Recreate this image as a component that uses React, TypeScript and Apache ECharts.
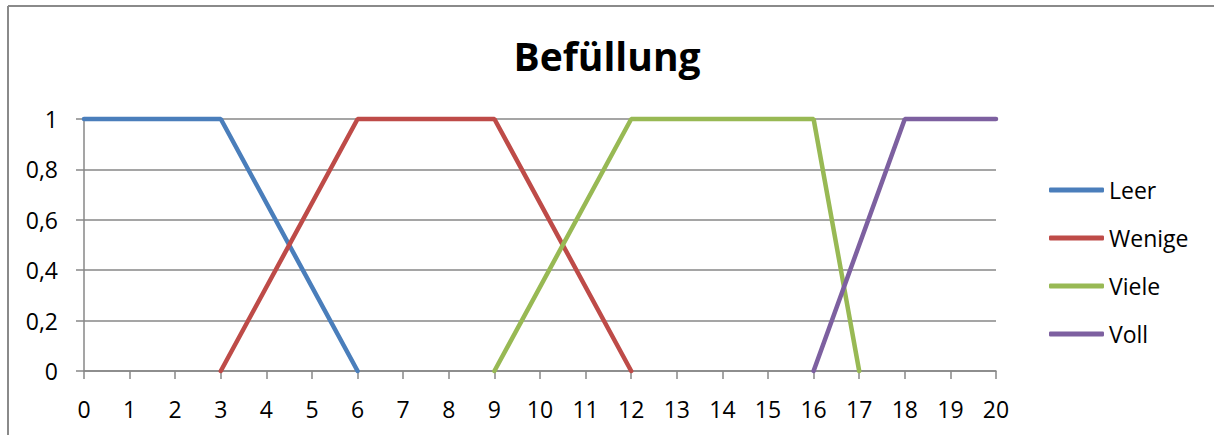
import React, { useEffect, useRef } from "react";
import * as echarts from "echarts";

// Membership functions for the fill level (0..20)
const leer: [number, number][] = [[0, 1], [3, 1], [6, 0]];
const wenige: [number, number][] = [[3, 0], [6, 1], [9, 1], [12, 0]];
const viele: [number, number][] = [[9, 0], [12, 1], [16, 1], [17, 0]];
const voll: [number, number][] = [[16, 0], [18, 1], [20, 1]];

const seriesNames = ["Leer", "Wenige", "Viele", "Voll"];
const seriesColors = ["#4A7EBB", "#BE4B48", "#98B954", "#7D60A0"];
const yTickLabels = ["0", "0,2", "0,4", "0,6", "0,8", "1"];

const FONT = "'Open Sans', 'Liberation Sans', sans-serif";
const GRAY = "#878787";

export default function App() {
  const ref = useRef<HTMLDivElement>(null);

  useEffect(() => {
    if (!ref.current) return;
    const chart = echarts.init(ref.current, undefined, { renderer: "svg" });
    const datasets = [leer, wenige, viele, voll];

    chart.setOption({
      animation: false,
      backgroundColor: "#ffffff",
      title: {
        text: "Befüllung",
        left: "center",
        top: 31,
        textStyle: { fontFamily: FONT, fontWeight: "bold", fontSize: 39, color: "#000" },
      },
      grid: { left: 84, right: 218, top: 119, bottom: 64 },
      legend: {
        orient: "vertical",
        left: 1044,
        top: 173,
        icon: "roundRect",
        itemWidth: 55,
        itemHeight: 5,
        itemGap: 24,
        data: seriesNames,
        textStyle: { fontFamily: FONT, fontSize: 23, color: "#000", lineHeight: 24 },
      },
      xAxis: {
        type: "value",
        min: 0,
        max: 20,
        interval: 1,
        axisLine: { show: true, lineStyle: { color: GRAY, width: 1.5 } },
        axisTick: { show: true, inside: false, length: 8, lineStyle: { color: GRAY, width: 1.5 } },
        axisLabel: { margin: 26, fontFamily: FONT, fontSize: 23, color: "#000" },
        splitLine: { show: false },
      },
      yAxis: {
        type: "value",
        min: 0,
        max: 1,
        interval: 0.2,
        axisLine: { show: true, lineStyle: { color: GRAY, width: 1.5 } },
        axisTick: { show: true, inside: false, length: 8, lineStyle: { color: GRAY, width: 1.5 } },
        axisLabel: {
          margin: 26,
          fontFamily: FONT,
          fontSize: 23,
          color: "#000",
          formatter: (v: number) => yTickLabels[Math.round(v / 0.2)],
        },
        splitLine: { show: true, lineStyle: { color: GRAY, width: 1.5 } },
      },
      series: datasets.map((d, i) => ({
        name: seriesNames[i],
        type: "line",
        data: d,
        showSymbol: false,
        symbol: "none",
        clip: false,
        color: seriesColors[i],
        lineStyle: { width: 4.5, color: seriesColors[i], cap: "round" },
      })),
      graphic: [
        { type: "line", shape: { x1: 8, y1: 6, x2: 1214, y2: 6 }, style: { stroke: "#8a8a8a", lineWidth: 2 } },
        { type: "line", shape: { x1: 8, y1: 6, x2: 8, y2: 435 }, style: { stroke: "#8a8a8a", lineWidth: 2 } },
      ],
    });

    return () => chart.dispose();
  }, []);

  return (
    <div
      ref={ref}
      style={{ position: "absolute", left: 0, top: 0, width: 1214, height: 435 }}
    />
  );
}
